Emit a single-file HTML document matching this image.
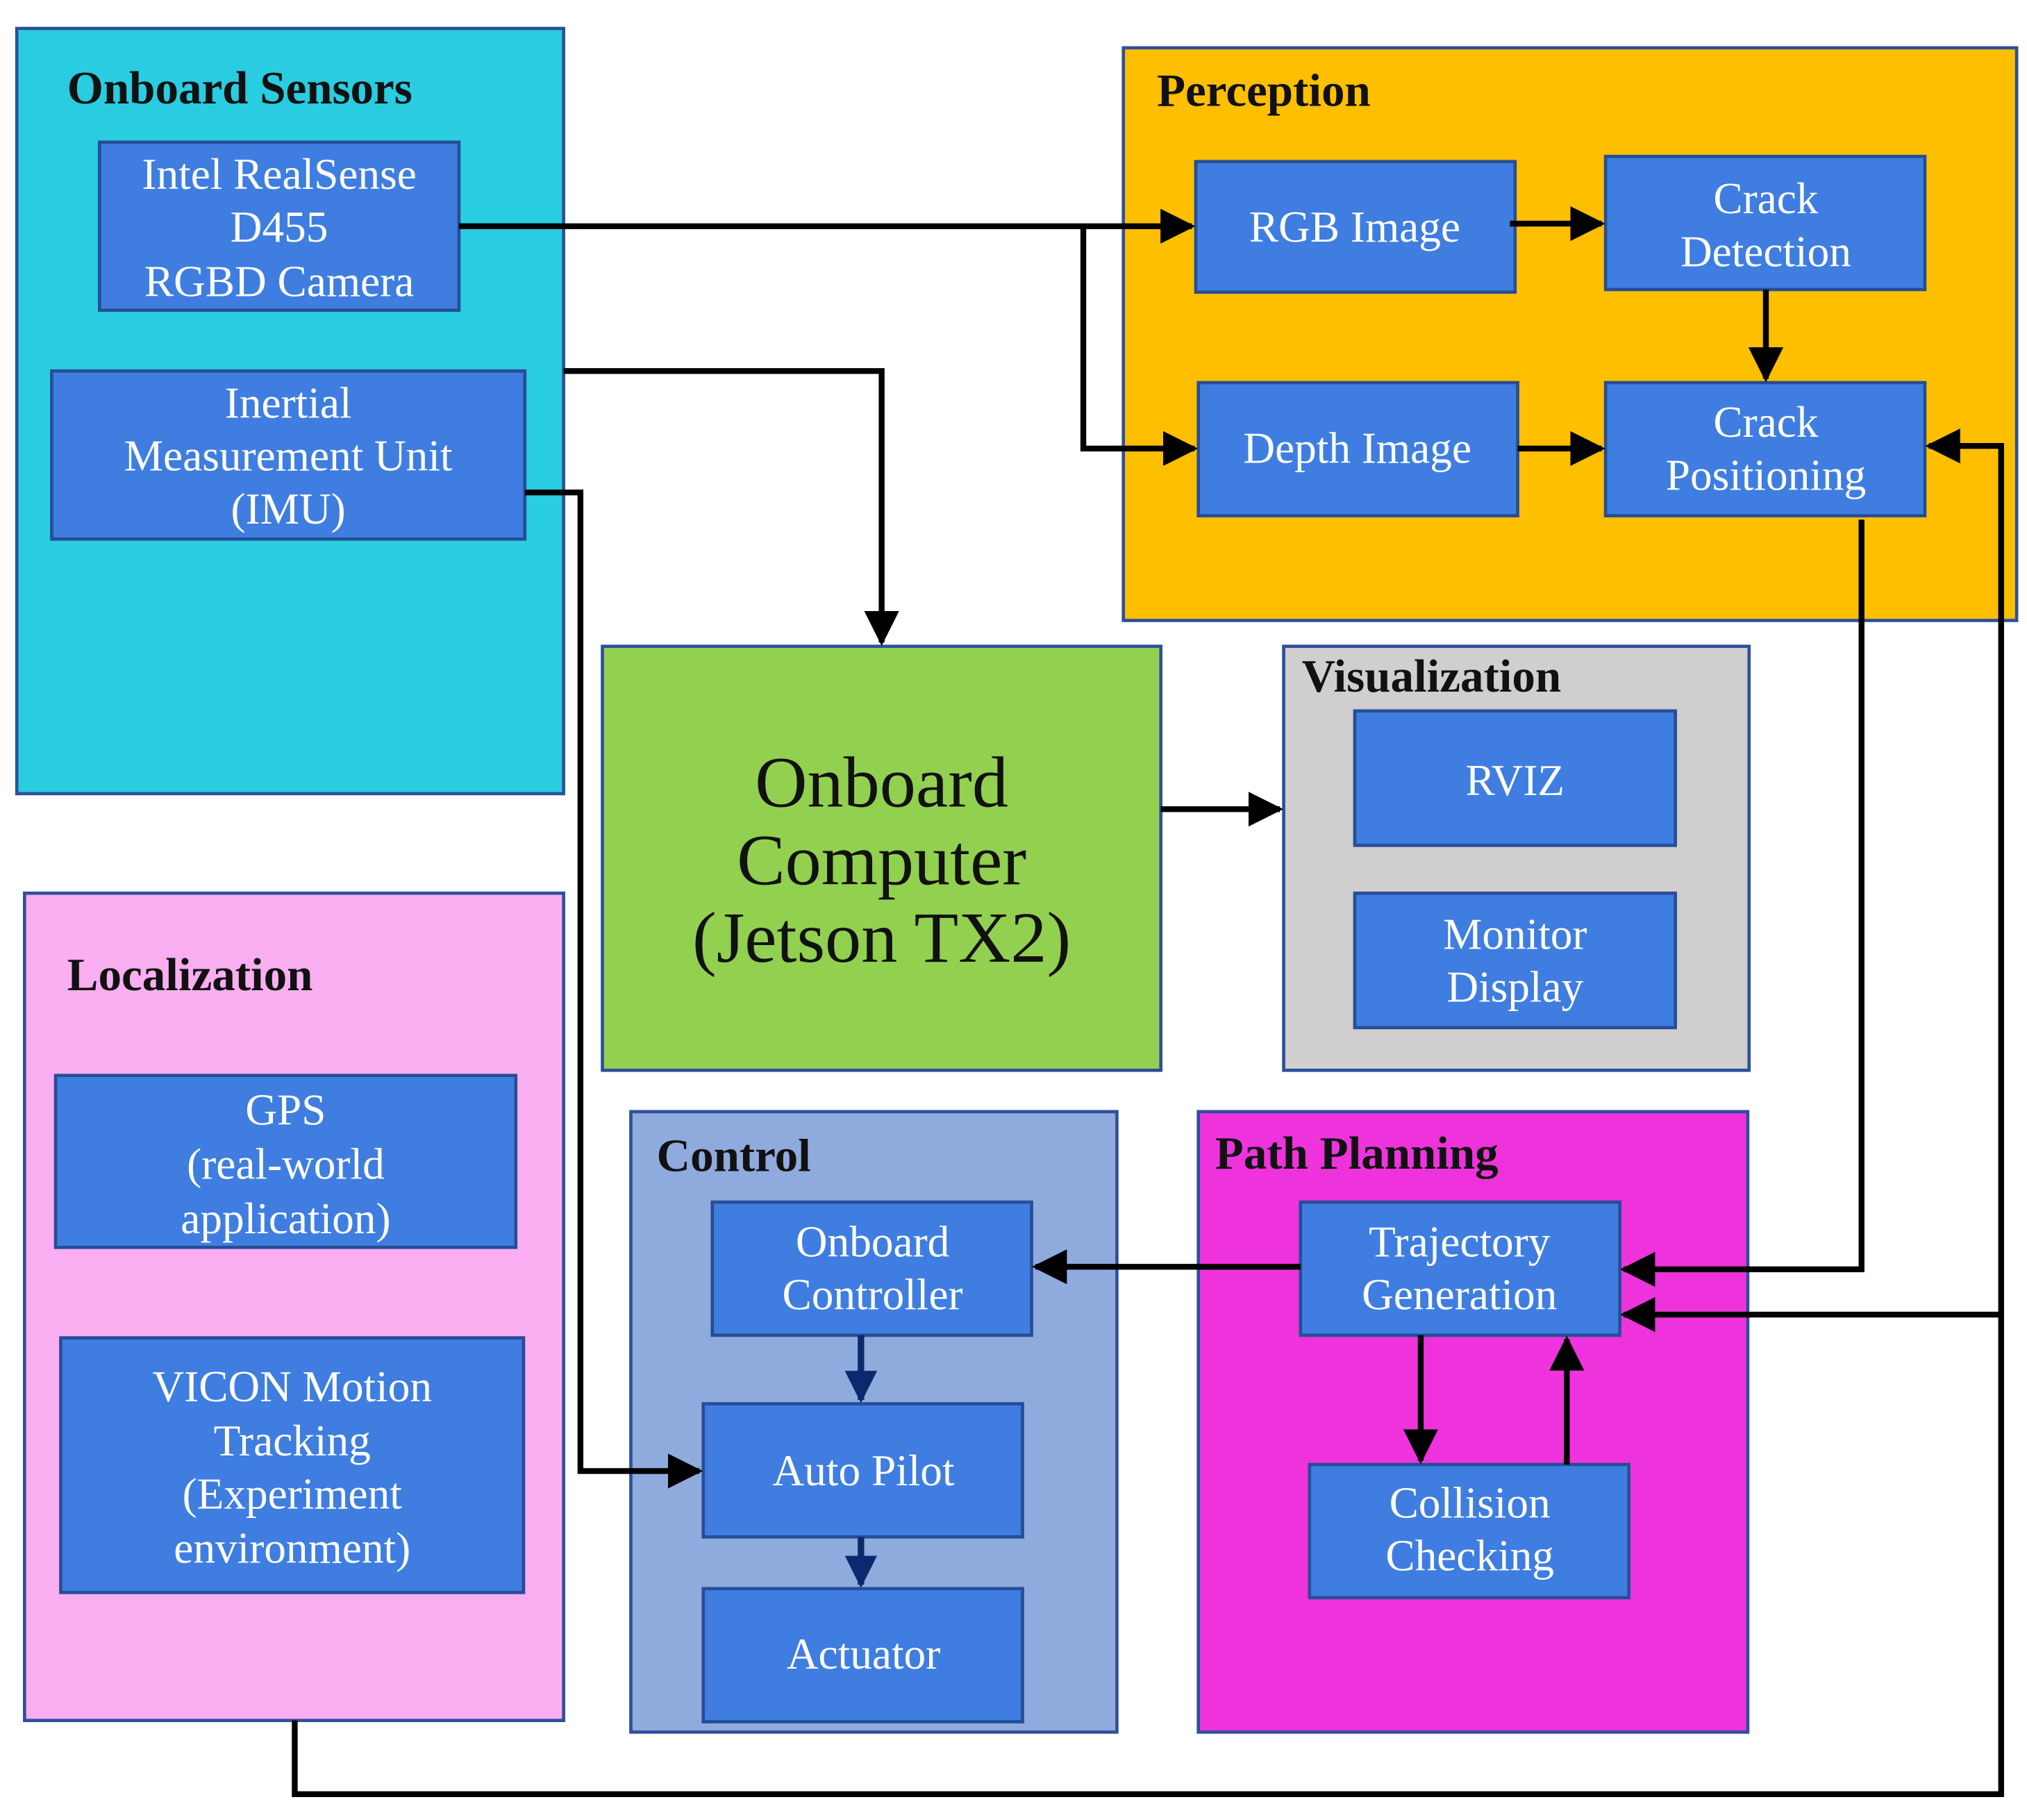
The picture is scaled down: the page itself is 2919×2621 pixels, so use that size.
<!DOCTYPE html>
<html><head><meta charset="utf-8"><style>html,body{margin:0;padding:0;background:#fff}svg{display:block}</style></head>
<body>
<svg xmlns="http://www.w3.org/2000/svg" width="2919" height="2621" viewBox="0 0 1568 1408" preserveAspectRatio="none" font-family="'Liberation Serif', serif">
<defs>
<marker id="a" viewBox="0 0 10 10" refX="9" refY="5" markerWidth="6" markerHeight="6" markerUnits="strokeWidth" orient="auto"><path d="M0,0L10,5L0,10z" fill="#000"/></marker>
<marker id="b" viewBox="0 0 10 10" refX="9" refY="5" markerWidth="5" markerHeight="5" markerUnits="strokeWidth" orient="auto"><path d="M0,0L10,5L0,10z" fill="#0b2a6e"/></marker>
</defs>
<g stroke="#2f4f9a" stroke-width="2.5">
<rect x="13" y="22" width="423" height="592" fill="#29cce0"/>
<rect x="869" y="37" width="691" height="443" fill="#fdbf00"/>
<rect x="466" y="500" width="432" height="328" fill="#92d050"/>
<rect x="993" y="500" width="360" height="328" fill="#d0cece"/>
<rect x="19" y="691" width="417" height="640" fill="#f8aef0"/>
<rect x="488" y="860" width="376" height="480" fill="#8faadc"/>
<rect x="927" y="860" width="425" height="480" fill="#ee33dd"/>
</g>
<g fill="#3f7ee0" stroke="#264d96" stroke-width="2.5">
<rect x="77" y="110" width="278" height="130"/>
<rect x="40" y="287" width="366" height="130"/>
<rect x="925" y="125" width="247" height="101"/>
<rect x="1242" y="121" width="247" height="103"/>
<rect x="927" y="296" width="247" height="103"/>
<rect x="1242" y="296" width="247" height="103"/>
<rect x="1048" y="550" width="248" height="104"/>
<rect x="1048" y="691" width="248" height="104"/>
<rect x="43" y="832" width="356" height="133"/>
<rect x="47" y="1035" width="358" height="197"/>
<rect x="551" y="930" width="247" height="103"/>
<rect x="544" y="1086" width="247" height="103"/>
<rect x="544" y="1229" width="247" height="103"/>
<rect x="1006" y="930" width="247" height="103"/>
<rect x="1013" y="1133" width="247" height="103"/>
</g>
<g font-weight="bold" font-size="36" fill="#111">
<text x="52" y="80">Onboard Sensors</text>
<text x="895" y="82">Perception</text>
<text x="1007" y="535">Visualization</text>
<text x="52" y="766">Localization</text>
<text x="508" y="906">Control</text>
<text x="940" y="904">Path Planning</text>
</g>
<g font-size="56" fill="#111" text-anchor="middle">
<text x="682" y="624">Onboard</text>
<text x="682" y="684">Computer</text>
<text x="682" y="744">(Jetson TX2)</text>
</g>
<g font-size="34" fill="#fff" text-anchor="middle">
<text x="216" y="146">Intel RealSense</text>
<text x="216" y="187">D455</text>
<text x="216" y="229">RGBD Camera</text>
<text x="223" y="323">Inertial</text>
<text x="223" y="364">Measurement Unit</text>
<text x="223" y="405">(IMU)</text>
<text x="1048" y="187">RGB Image</text>
<text x="1366" y="165">Crack</text>
<text x="1366" y="206">Detection</text>
<text x="1050" y="358">Depth Image</text>
<text x="1366" y="338">Crack</text>
<text x="1366" y="379">Positioning</text>
<text x="1172" y="615">RVIZ</text>
<text x="1172" y="734">Monitor</text>
<text x="1172" y="775">Display</text>
<text x="221" y="870">GPS</text>
<text x="221" y="912">(real-world</text>
<text x="221" y="954">application)</text>
<text x="226" y="1084">VICON Motion</text>
<text x="226" y="1126">Tracking</text>
<text x="226" y="1167">(Experiment</text>
<text x="226" y="1209">environment)</text>
<text x="675" y="972">Onboard</text>
<text x="675" y="1013">Controller</text>
<text x="668" y="1149">Auto Pilot</text>
<text x="668" y="1291">Actuator</text>
<text x="1129" y="972">Trajectory</text>
<text x="1129" y="1013">Generation</text>
<text x="1137" y="1174">Collision</text>
<text x="1137" y="1215">Checking</text>
</g>
<g fill="none" stroke="#000" stroke-width="4.5">
<path d="M355,175H922" marker-end="url(#a)"/>
<path d="M838,175V347H924" marker-end="url(#a)"/>
<path d="M1168,173H1239" marker-end="url(#a)"/>
<path d="M1366,224V293" marker-end="url(#a)"/>
<path d="M1174,347H1239" marker-end="url(#a)"/>
<path d="M436,287H682V497" marker-end="url(#a)"/>
<path d="M406,381H449V1138H541" marker-end="url(#a)"/>
<path d="M898,626H990" marker-end="url(#a)"/>
<path d="M1440,402V982H1256" marker-end="url(#a)"/>
<path d="M228,1331V1388H1548V345H1492" marker-end="url(#a)"/>
<path d="M1548,1017H1256" marker-end="url(#a)"/>
<path d="M1006,980H801" marker-end="url(#a)"/>
<path d="M1099,1033V1130" marker-end="url(#a)"/>
<path d="M1212,1133V1036" marker-end="url(#a)"/>
</g>
<g fill="none" stroke="#0b2a6e" stroke-width="5">
<path d="M666,1033V1083" marker-end="url(#b)"/>
<path d="M666,1189V1226" marker-end="url(#b)"/>
</g>
</svg>
</body></html>
